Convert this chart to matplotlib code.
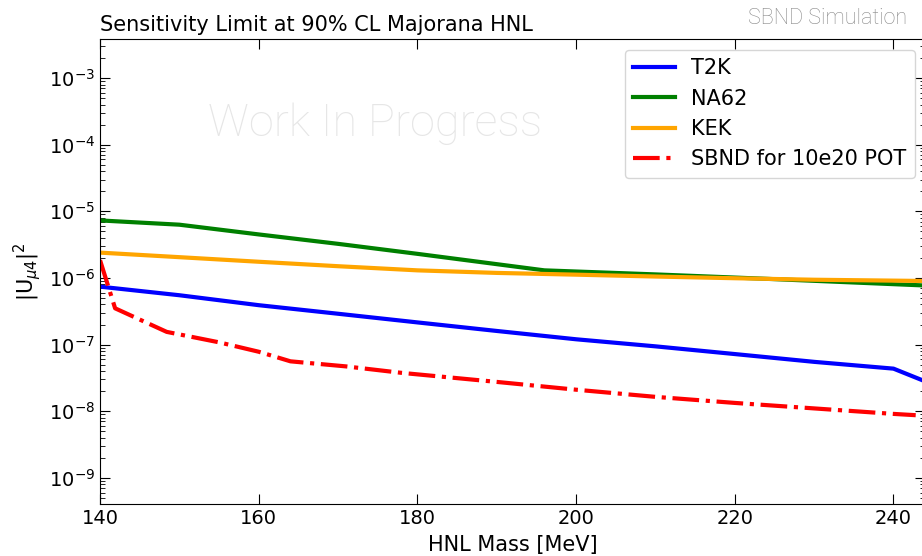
import numpy as np
import matplotlib
matplotlib.use("Agg")
from matplotlib import pyplot as plt

# HNL mass [MeV] and 90% CL limits on |U_mu4|^2
mass_t2k = [140, 150, 160, 170, 180, 190, 200, 210, 220, 230, 240, 244]
u_t2k = [7.4e-7, 5.5e-7, 3.9e-7, 2.9e-7, 2.15e-7, 1.6e-7, 1.2e-7, 9.4e-8, 7.2e-8, 5.5e-8, 4.35e-8, 2.8e-8]

mass_na62 = [140, 150, 160, 170, 180, 196, 210, 224, 244]
u_na62 = [7.3e-6, 6.3e-6, 4.5e-6, 3.25e-6, 2.3e-6, 1.3e-6, 1.13e-6, 9.7e-7, 7.7e-7]

mass_kek = [140, 150, 160, 170, 180, 190, 200, 210, 220, 230, 244]
u_kek = [2.4e-6, 2.05e-6, 1.75e-6, 1.5e-6, 1.3e-6, 1.19e-6, 1.12e-6, 1.05e-6, 9.9e-7, 9.4e-7, 9.0e-7]

mass_sbnd = [140, 141.9, 148.4, 155, 160, 164, 171, 178, 183, 190, 200, 210, 220, 230, 240, 242.8]
u_sbnd = [1.85e-6, 3.5e-7, 1.55e-7, 1.08e-7, 7.8e-8, 5.6e-8, 4.7e-8, 3.76e-8, 3.3e-8, 2.75e-8,
          2.1e-8, 1.64e-8, 1.33e-8, 1.1e-8, 9.1e-9, 8.7e-9]

fig = plt.figure(figsize=(9.22, 5.56), dpi=100)
ax = fig.add_axes([0.1085, 0.093, 0.895, 0.836])

ax.plot(mass_t2k, u_t2k, color='blue', lw=3, label='T2K')
ax.plot(mass_na62, u_na62, color='green', lw=3, label='NA62')
ax.plot(mass_kek, u_kek, color='orange', lw=3, label='KEK')
ax.plot(mass_sbnd, u_sbnd, color='red', lw=3, ls='-.', label='SBND for 10e20 POT')

ax.set_yscale('log')
ax.set_xlim(140, 244)
ax.set_ylim(4e-10, 3.8e-3)
ax.set_xticks([140, 160, 180, 200, 220, 240])

ax.tick_params(which='both', direction='in', top=True, right=True, labelsize=14)
ax.tick_params(which='major', length=7)
ax.tick_params(which='minor', length=3.5)

ax.set_xlabel('HNL Mass [MeV]', fontsize=15, labelpad=5)
ax.set_ylabel(r'|U$_{\mu4}$|$^2$', fontsize=15)
ax.set_title('Sensitivity Limit at 90% CL Majorana HNL', loc='left', fontsize=15)

ax.legend(loc='upper right', fontsize=15)

# watermarks
ax.text(0.333, 0.818, 'Work In Progress', transform=ax.transAxes, fontsize=32.5,
        family='Roboto', weight='light', color='#e6e6e6', ha='center', va='center', zorder=0)
fig.text(0.984, 0.957, 'SBND Simulation', fontsize=15.5, family='Roboto', weight='light',
         color='#888888', ha='right', va='baseline')

fig.savefig('out.png', dpi=100)
